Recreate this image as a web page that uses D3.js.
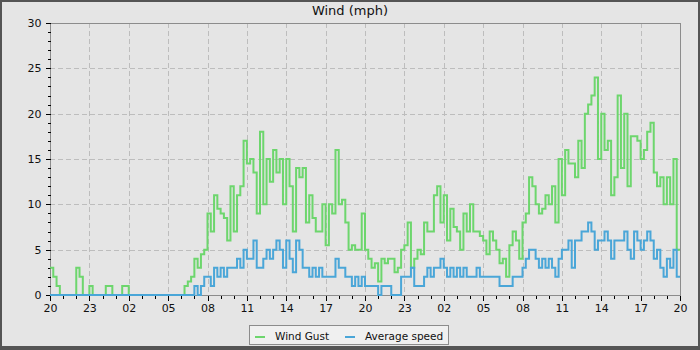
<!DOCTYPE html>
<html>
<head>
<meta charset="utf-8">
<script src="https://cdn.jsdelivr.net/npm/d3@7"></script>
<style>
  html, body { margin: 0; padding: 0; background: #e5e5e5; }
  svg { display: block; font-family: "DejaVu Sans", sans-serif; }
</style>
</head>
<body>
<svg id="chart" width="700" height="350"></svg>
<script>
// readings every 15 minutes, starting 20:00, 48 hours
const stepHours = 0.25;
const timeLabels = ["20", "23", "02", "05", "08", "11", "14", "17", "20", "23", "02", "05", "08", "11", "14", "17", "20"];
const seriesNames = ["Wind Gust", "Average speed"];
const seriesColors = ["#6dd66d", "#4aa6d8"];

const windGust = [
  3, 2, 1, 0, 0, 0, 0, 0,
  3, 2, 0, 0, 1, 0, 0, 0,
  0, 1, 1, 0, 0, 0, 1, 1,
  0, 0, 0, 0, 0, 0, 0, 0,
  0, 0, 0, 0, 0, 0, 0, 0,
  0, 1, 1.5, 2, 4, 3, 4.5, 5,
  9, 7, 11, 9.5, 9, 8.5, 6, 12,
  7, 11, 12, 17, 14.5, 15, 13.5, 9,
  18, 10, 15, 12.5, 16, 13.5, 15, 10,
  15, 12, 7, 14, 13, 14, 8, 11,
  8.5, 7, 7, 10, 5.5, 10, 9, 16,
  10, 10.5, 8, 5, 5.5, 5, 5, 9,
  5, 4, 3, 3.5, 1.5, 4, 3.5, 4,
  4, 2.5, 3, 5, 5.5, 8, 3, 4,
  5, 4.5, 8, 7, 7, 11, 12, 8,
  11, 6, 9.5, 7.5, 7, 5, 9, 7,
  10, 7, 7, 6.5, 6, 4.5, 7, 6,
  5, 3.5, 4, 2, 5.5, 7, 6, 4,
  8, 9, 13, 12, 10, 9, 9.5, 11,
  10, 12, 8, 15, 11, 16, 14.5, 14.5,
  13, 17, 14, 20, 21, 22, 24, 15,
  20, 16, 17, 11, 13, 22, 14, 20,
  12, 17.5, 17.5, 17, 15, 16, 18, 19,
  13.5, 12, 13, 10, 13, 10, 15, 5
];

const avgSpeed = [
  0, 0, 0, 0, 0, 0, 0, 0,
  0, 0, 0, 0, 0, 0, 0, 0,
  0, 0, 0, 0, 0, 0, 0, 0,
  0, 0, 0, 0, 0, 0, 0, 0,
  0, 0, 0, 0, 0, 0, 0, 0,
  0, 0, 0, 0, 1, 0, 1, 2,
  2, 1, 3, 2, 3, 2, 3, 3,
  3, 4, 3, 5, 4, 4, 6, 3,
  3, 4, 5, 4, 5, 6, 5, 3,
  6, 4, 2.5, 6, 5, 3, 3, 2,
  3, 2, 3, 2, 2, 2, 2, 4,
  3, 3, 2, 2, 1, 2, 1, 2,
  1, 1, 1, 1, 0, 1, 1, 1,
  0, 0, 0, 2, 2, 2, 3, 1,
  1, 1, 2, 3, 2, 3, 3, 4,
  3, 2, 3, 2, 3, 2, 3, 2,
  2, 2, 3, 2, 2, 2, 2, 2,
  2, 1, 1, 1, 1, 2, 2, 2,
  3, 4, 5, 5, 4, 3, 4, 3,
  4, 3, 2, 4, 5, 5, 6, 3,
  6, 6, 7, 7, 8, 7, 5, 6,
  6, 7, 6, 4, 6, 6, 6, 7,
  5, 4, 7, 6, 5, 6, 7, 6,
  4, 5, 3, 2, 4, 3, 5, 2
];

const W = 700, H = 350;
const plot = { left: 50, right: 680, top: 23, bottom: 295 };
const totalHours = (timeLabels.length - 1) * 3;

const svg = d3.select("#chart");

svg.append("rect")
  .attr("x", 1).attr("y", 1)
  .attr("width", W - 2).attr("height", H - 2)
  .attr("fill", "#e5e5e5")
  .attr("stroke", "#555")
  .attr("stroke-width", 2);
svg.append("rect")
  .attr("x", 0).attr("y", 346)
  .attr("width", W).attr("height", 4)
  .attr("fill", "#555");

const x = d3.scaleLinear().domain([0, totalHours]).range([plot.left, plot.right]);
const y = d3.scaleLinear().domain([0, 30]).range([plot.bottom, plot.top]);

// grid
const grid = svg.append("g")
  .attr("stroke", "#bdbdbd")
  .attr("stroke-dasharray", "5,3")
  .attr("shape-rendering", "crispEdges");
grid.selectAll(".gy")
  .data(d3.range(5, 30, 5))
  .enter().append("line")
  .attr("x1", plot.left).attr("x2", plot.right)
  .attr("y1", d => Math.round(y(d)) + 0.5).attr("y2", d => Math.round(y(d)) + 0.5);
grid.selectAll(".gx")
  .data(d3.range(3, totalHours, 3))
  .enter().append("line")
  .attr("y1", plot.top).attr("y2", plot.bottom)
  .attr("x1", d => Math.round(x(d)) + 0.5).attr("x2", d => Math.round(x(d)) + 0.5);

// plot frame
svg.append("rect")
  .attr("x", plot.left + 0.5).attr("y", plot.top + 0.5)
  .attr("width", plot.right - plot.left).attr("height", plot.bottom - plot.top)
  .attr("fill", "none")
  .attr("stroke", "#8c8c8c")
  .attr("shape-rendering", "crispEdges");

// axes
const yMajor = d3.axisLeft(y).tickValues(d3.range(0, 31, 5)).tickSize(5).tickPadding(4);
const yMinor = d3.axisLeft(y).tickValues(d3.range(0, 31, 1)).tickSize(3).tickFormat("");
const xMajor = d3.axisBottom(x).tickValues(d3.range(0, totalHours + 1, 3))
  .tickSize(5).tickPadding(4).tickFormat((d, i) => timeLabels[i]);
const xMinor = d3.axisBottom(x).tickValues(d3.range(0, totalHours + 1, 1)).tickSize(3).tickFormat("");

function styleAxis(g) {
  g.select(".domain").remove();
  g.selectAll("line").attr("stroke", "#000").attr("shape-rendering", "crispEdges");
  g.selectAll("text").attr("fill", "#111").attr("font-size", 11)
    .attr("font-family", "DejaVu Sans, sans-serif");
}

svg.append("g").attr("transform", `translate(${plot.left + 0.5},0)`).call(yMinor).call(styleAxis);
svg.append("g").attr("transform", `translate(${plot.left + 0.5},0)`).call(yMajor).call(styleAxis);
svg.append("g").attr("transform", `translate(0,${plot.bottom + 0.5})`).call(xMinor).call(styleAxis);
svg.append("g").attr("transform", `translate(0,${plot.bottom + 0.5})`).call(xMajor).call(styleAxis);

// series (step lines)
function points(values) {
  const pts = values.map((v, i) => [i * stepHours, v]);
  pts.push([values.length * stepHours, values[values.length - 1]]);
  return pts;
}

const line = d3.line()
  .x(d => x(d[0]))
  .y(d => y(d[1]))
  .curve(d3.curveStepAfter);

[windGust, avgSpeed].forEach((vals, k) => {
  svg.append("path")
    .datum(points(vals))
    .attr("fill", "none")
    .attr("stroke", seriesColors[k])
    .attr("stroke-width", 2)
    .attr("d", line);
});

// title
svg.append("text")
  .attr("x", W / 2).attr("y", 15)
  .attr("text-anchor", "middle")
  .attr("font-size", 13)
  .attr("fill", "#111")
  .text("Wind (mph)");

// legend
const legend = svg.append("g");
legend.append("rect")
  .attr("x", 249.5).attr("y", 325.5)
  .attr("width", 199).attr("height", 19)
  .attr("fill", "#f0f0f0")
  .attr("stroke", "#8c8c8c");
const legendX = [255, 345];
seriesNames.forEach((name, k) => {
  legend.append("line")
    .attr("x1", legendX[k]).attr("x2", legendX[k] + 10)
    .attr("y1", 337).attr("y2", 337)
    .attr("stroke", seriesColors[k])
    .attr("stroke-width", 2);
  legend.append("text")
    .attr("x", legendX[k] + 20).attr("y", 339.5)
    .attr("font-size", 10.5)
    .attr("fill", "#111")
    .text(name);
});
</script>
</body>
</html>
